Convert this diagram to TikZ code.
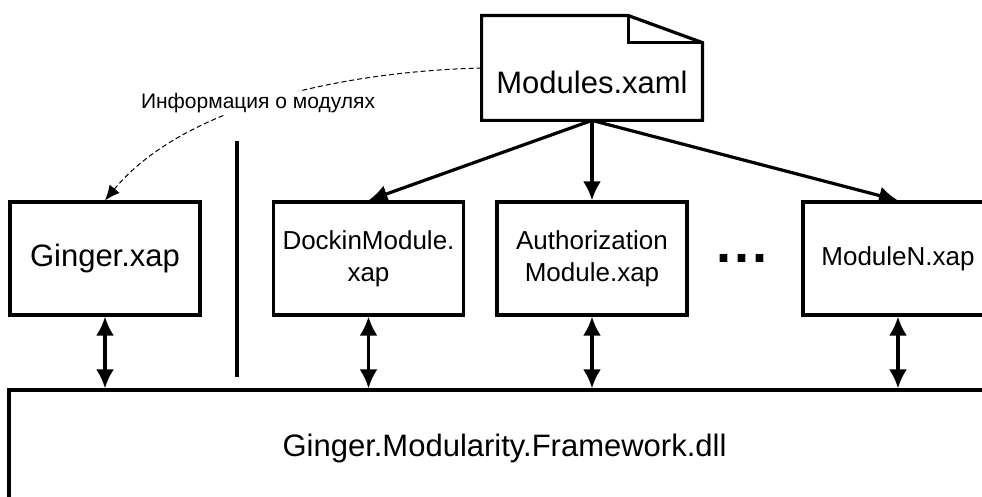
\documentclass[tikz,border=0pt]{standalone}
\usepackage{fontspec}
\setmainfont{Liberation Sans}
\usetikzlibrary{positioning, arrows.meta}

\begin{document}
\begin{tikzpicture}[x=0.5pt, y=-0.5pt, on grid,
        box/.style={draw, line width=1.6pt, minimum width=95pt, minimum height=56.5pt,
            inner sep=0pt, align=center, font=\fontsize{13}{16}\selectfont},
        big/.style={font=\fontsize{15.5}{18}\selectfont},
        link/.style={line width=1.6pt, -{Latex[length=9.5pt,width=9pt]}},
        both/.style={line width=1.6pt, {Latex[length=9.5pt,width=9pt]}-{Latex[length=9.5pt,width=9pt]}},
        info/.style={line width=0.5pt, dash pattern=on 2.5pt off 1.5pt, -{Latex[length=7.5pt,width=6.5pt]}}]
    \useasboundingbox (0,0) rectangle (982,497);
    \clip (0,0) rectangle (982,497);

    \node[box, big] (ginger) at (105,258.5) {Ginger.xap};
    \node[box] (dock) [right=131.75pt of ginger] {DockinModule.\\xap};
    \node[box] (auth) [right=111.75pt of dock] {Authorization\\Module.xap};
    \node[box] (modn) [right=153pt of auth] {ModuleN.xap};
    \node[font=\fontsize{27}{30}\bfseries] (dots) at (742,258) {.\kern1.5pt.\kern1.5pt.};

    \node[draw, line width=1.6pt, minimum width=495.5pt, minimum height=58pt, big]
        (fw) at (504.5,448) {Ginger.Modularity.Framework.dll};

    % Modules.xaml as a page with a folded corner
    \node[minimum width=110pt, minimum height=52pt, inner sep=0pt] (xaml) [above=95.25pt of auth] {};
    \draw[line width=1.6pt] (xaml.south west) |- ([xshift=-37pt]xaml.north east)
        -- ([yshift=-13.5pt]xaml.north east) |- cycle;
    \draw[line width=1.6pt] ([xshift=-37pt]xaml.north east) |- ([yshift=-13.5pt]xaml.north east);
    \node[big] (xamltxt) at ([yshift=-7pt]xaml.center) {Modules.xaml};

    \coordinate (septop) at (237,141);
    \coordinate (sepbot) at (237,377);
    \draw[line width=1.6pt] (septop) -- (sepbot);

    \draw[info] (xaml.west) .. controls (330,72) and (180,110) .. (ginger.north);
    \node[fill=white, inner sep=1pt, font=\fontsize{10.5}{12}\selectfont] (infolbl) at (258,103)
        {Информация о модулях};

    \path[link]
    (xaml.south) edge (dock.north)
                 edge (auth.north)
                 edge (modn.north);

    \foreach \m in {ginger, dock, auth, modn}
        \draw[both] (\m.south) -- (\m.south |- fw.north);
\end{tikzpicture}
\end{document}
